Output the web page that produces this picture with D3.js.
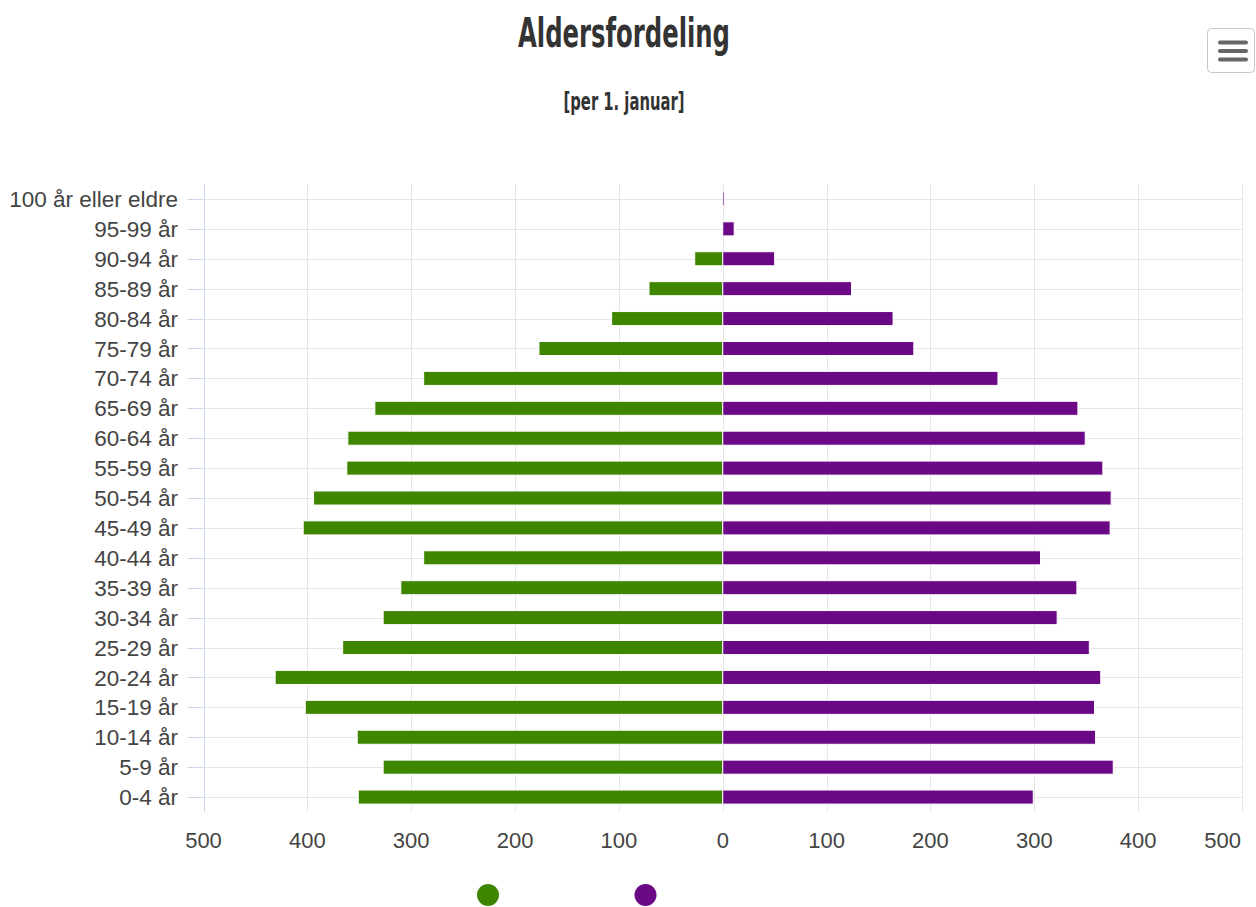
<!DOCTYPE html>
<html>
<head>
<meta charset="utf-8">
<script src="https://cdn.jsdelivr.net/npm/d3@7"></script>
<style>
  html, body { margin: 0; padding: 0; background: #fff; }
  svg { display: block; }
</style>
</head>
<body>
<svg id="chart" width="1256" height="907"></svg>
<script>
// Age groups, oldest at the top
const categories = [
  "100 år eller eldre", "95-99 år", "90-94 år", "85-89 år", "80-84 år",
  "75-79 år", "70-74 år", "65-69 år", "60-64 år", "55-59 år", "50-54 år",
  "45-49 år", "40-44 år", "35-39 år", "30-34 år", "25-29 år", "20-24 år",
  "15-19 år", "10-14 år", "5-9 år", "0-4 år"
];

// Left-hand series (green), drawn towards negative values
const leftValues = [
  0, 0, 27, 71, 107, 177, 288, 335, 361, 362, 394,
  404, 288, 310, 327, 366, 431, 402, 352, 327, 351
];

// Right-hand series (purple)
const rightValues = [
  1, 11, 50, 124, 164, 184, 265, 342, 349, 366, 374,
  373, 306, 341, 322, 353, 364, 358, 359, 376, 299
];

// Value-axis ticks (shown as absolute numbers on both sides)
const valueTicks = [-500, -400, -300, -200, -100, 0, 100, 200, 300, 400, 500];

const titleText = "Aldersfordeling";
const subtitleText = "[per 1. januar]";

const colors = { left: "#3f8600", right: "#6a0885" };

const svg = d3.select("#chart");

const plot = { left: 203.5, right: 1242, top: 184, bottom: 812 };

const x = d3.scaleLinear().domain([-500, 500]).range([plot.left, plot.right]);
const y = d3.scaleBand().domain(categories).range([plot.top, plot.bottom]).paddingInner(0).paddingOuter(0);
const yc = c => y(c) + y.bandwidth() / 2;
const barH = y.bandwidth() * 0.47;

const labelFont = "'Liberation Sans', Arial, Helvetica, sans-serif";
const narrowFont = "'Liberation Sans Narrow', 'DejaVu Sans Condensed', 'Liberation Sans', sans-serif";

// Title and subtitle
svg.append("text")
  .attr("x", 624).attr("y", 47)
  .attr("text-anchor", "middle")
  .attr("font-family", narrowFont)
  .attr("font-weight", "bold")
  .attr("font-size", 41)
  .attr("fill", "#333")
  .attr("textLength", 212)
  .attr("lengthAdjust", "spacingAndGlyphs")
  .text(titleText);

svg.append("text")
  .attr("x", 624).attr("y", 110)
  .attr("text-anchor", "middle")
  .attr("font-family", narrowFont)
  .attr("font-weight", 600)
  .attr("font-size", 24)
  .attr("fill", "#333")
  .attr("textLength", 121)
  .attr("lengthAdjust", "spacingAndGlyphs")
  .text(subtitleText);

// Context menu button
const menu = svg.append("g");
menu.append("rect")
  .attr("x", 1207.5).attr("y", 28.5).attr("width", 47).attr("height", 44)
  .attr("rx", 4).attr("ry", 4)
  .attr("fill", "#fff").attr("stroke", "#c8c8c8").attr("stroke-width", 1);
[42.5, 51, 59.5].forEach(yy => {
  menu.append("line")
    .attr("x1", 1220).attr("x2", 1246).attr("y1", yy).attr("y2", yy)
    .attr("stroke", "#666").attr("stroke-width", 4).attr("stroke-linecap", "round");
});

// Horizontal grid lines at each category
svg.append("g")
  .selectAll("line")
  .data(categories)
  .join("line")
  .attr("x1", plot.left).attr("x2", plot.right)
  .attr("y1", c => Math.round(yc(c)) + 0.5)
  .attr("y2", c => Math.round(yc(c)) + 0.5)
  .attr("stroke", "#e6e6e6").attr("stroke-width", 1);

// Vertical grid lines at value ticks
svg.append("g")
  .selectAll("line")
  .data(valueTicks)
  .join("line")
  .attr("x1", d => Math.round(x(d)) + 0.5)
  .attr("x2", d => Math.round(x(d)) + 0.5)
  .attr("y1", plot.top).attr("y2", plot.bottom)
  .attr("stroke", "#e6e6e6").attr("stroke-width", 1);

// Category axis: line, ticks and labels
const catAxis = svg.append("g");
catAxis.append("line")
  .attr("x1", Math.round(plot.left) + 0.5).attr("x2", Math.round(plot.left) + 0.5)
  .attr("y1", plot.top).attr("y2", plot.bottom)
  .attr("stroke", "#ccd6eb").attr("stroke-width", 1);
catAxis.selectAll("line.tick")
  .data(categories)
  .join("line")
  .attr("class", "tick")
  .attr("x1", plot.left - 16).attr("x2", plot.left)
  .attr("y1", c => Math.round(yc(c)) + 0.5)
  .attr("y2", c => Math.round(yc(c)) + 0.5)
  .attr("stroke", "#ccd6eb").attr("stroke-width", 1);
catAxis.selectAll("text")
  .data(categories)
  .join("text")
  .attr("x", 178)
  .attr("y", c => yc(c))
  .attr("dy", "0.36em")
  .attr("text-anchor", "end")
  .attr("font-family", labelFont)
  .attr("font-size", 22.5)
  .attr("fill", "#444")
  .text(c => c);

// Value axis labels; the outermost right label is kept inside the chart edge
const lastTick = valueTicks[valueTicks.length - 1];
svg.append("g")
  .selectAll("text")
  .data(valueTicks)
  .join("text")
  .attr("x", d => d === lastTick ? plot.right - 1 : x(d))
  .attr("y", 848)
  .attr("text-anchor", d => d === lastTick ? "end" : "middle")
  .attr("font-family", labelFont)
  .attr("font-size", 22)
  .attr("fill", "#444")
  .text(d => Math.abs(d));

// Bars
const rows = categories.map((c, i) => ({ c, left: leftValues[i], right: rightValues[i] }));

svg.append("g")
  .selectAll("rect")
  .data(rows.filter(r => r.left > 0))
  .join("rect")
  .attr("x", r => x(-r.left))
  .attr("y", r => yc(r.c) - barH / 2)
  .attr("width", r => x(0) - x(-r.left))
  .attr("height", barH)
  .attr("fill", colors.left)
  .attr("stroke", "#fff").attr("stroke-width", 1);

svg.append("g")
  .selectAll("rect")
  .data(rows.filter(r => r.right > 0))
  .join("rect")
  .attr("x", x(0))
  .attr("y", r => yc(r.c) - barH / 2)
  .attr("width", r => Math.max(x(r.right) - x(0), 1.5))
  .attr("height", barH)
  .attr("fill", colors.right)
  .attr("stroke", "#fff").attr("stroke-width", 1);

// Legend markers
svg.append("circle").attr("cx", 488).attr("cy", 895).attr("r", 11).attr("fill", colors.left);
svg.append("circle").attr("cx", 645.5).attr("cy", 895).attr("r", 11).attr("fill", colors.right);
</script>
</body>
</html>
